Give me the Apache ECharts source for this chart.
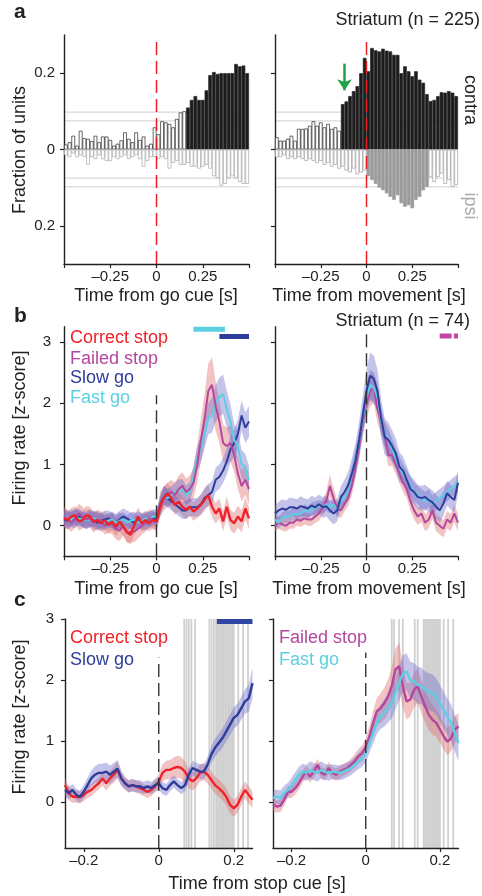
<!DOCTYPE html>
<html>
<head>
<meta charset="utf-8">
<script src="https://cdn.jsdelivr.net/npm/echarts@6/dist/echarts.min.js"></script>
<style>
  html, body { margin: 0; padding: 0; background: #fff; }
  #main { width: 482px; height: 896px; }
</style>
</head>
<body>
<div id="main"></div>
<script>
// ---- panel a: fraction of units, 20 ms bins from -0.5 to 0.5 s ----
var binCenters = [];
for (var i = 0; i < 50; i++) binCenters.push(+(-0.49 + 0.02 * i).toFixed(2));

var aGoContra = [0.013, 0.019, 0.036, 0.01, 0.049, 0.03, 0.028, 0.022, 0.036, 0.019, 0.034, 0.034, 0.025,
  0.01, 0.015, 0.024, 0.045, 0.028, 0.019, 0.045, 0.025, 0.034, 0.01, 0.015, 0.058,
  0.04, 0.074, 0.071, 0.067, 0.058, 0.08, 0.097, 0.1, 0.11, 0.13, 0.14, 0.13, 0.13, 0.155, 0.195,
  0.203, 0.198, 0.2, 0.2, 0.2, 0.2, 0.224, 0.218, 0.22, 0.2];
var aGoIpsi = [0.015, 0.02, 0.01, 0.02, 0.015, 0.02, 0.04, 0.02, 0.025, 0.015, 0.025, 0.03, 0.03,
  0.02, 0.025, 0.02, 0.015, 0.025, 0.02, 0.015, 0.025, 0.045, 0.03, 0.02, 0.02,
  0.025, 0.02, 0.025, 0.05, 0.035, 0.03, 0.04, 0.04, 0.035, 0.045, 0.045, 0.05, 0.045, 0.04, 0.05,
  0.07, 0.075, 0.095, 0.09, 0.075, 0.07, 0.075, 0.085, 0.09, 0.09];
var aMoveContra = [0.032, 0.023, 0.023, 0.028, 0.036, 0.023, 0.054, 0.054, 0.055, 0.062, 0.074, 0.062, 0.071,
  0.058, 0.067, 0.054, 0.058, 0.049, 0.119, 0.126, 0.14, 0.153, 0.166, 0.2, 0.24,
  0.205, 0.266, 0.26, 0.257, 0.264, 0.259, 0.257, 0.248, 0.248, 0.2, 0.218, 0.205, 0.192, 0.205, 0.183,
  0.175, 0.145, 0.127, 0.13, 0.14, 0.15, 0.149, 0.153, 0.149, 0.14];
var aMoveIpsi = [0.02, 0.02, 0.015, 0.025, 0.02, 0.025, 0.02, 0.025, 0.03, 0.025, 0.03, 0.035, 0.03,
  0.04, 0.035, 0.045, 0.04, 0.05, 0.045, 0.055, 0.06, 0.05, 0.065, 0.06, 0.055,
  0.07, 0.08, 0.09, 0.1, 0.107, 0.115, 0.124, 0.132, 0.12, 0.141, 0.15, 0.146, 0.154, 0.132, 0.124,
  0.107, 0.098, 0.072, 0.085, 0.072, 0.063, 0.09, 0.08, 0.098, 0.093];
// time windows where bins are significant (filled)
var aGoContraSig = [0.16, 0.5];
var aMoveContraSig = [-0.14, 0.5];
var aMoveIpsiSig = [0, 0.34];
var aThresholds = [0.075, 0.098];
var aArrow = [-0.12, 0.225, 0.155];

// ---- panel b: z-scored firing rate, 20 ms steps from -0.5 to 0.5 s ----
var timeB = [];
for (var j = 0; j < 51; j++) timeB.push(+(-0.5 + 0.02 * j).toFixed(2));

var bGoRed = [0.12, 0.09, 0.15, 0.17, 0.07, 0.09, 0.17, 0.15, 0.07, 0.09, 0.04, 0.09, 0.01, 0.07, -0.02, 0.07,
  -0.02, -0.1, -0.15, 0.01, 0.15, 0.04, 0.09, 0.04, 0.09, 0.07, 0.31, 0.47, 0.53, 0.45, 0.34, 0.39, 0.31,
  0.26, 0.31, 0.23, 0.28, 0.34, 0.42, 0.5, 0.31, 0.2, 0.28, 0.07, 0.31, 0.09, 0.04, 0.15, 0.07, 0.28, 0.12];
var bGoMagenta = [0.15, 0.1, 0.05, 0.12, 0.2, 0.15, 0.1, 0.12, 0.05, 0.1, 0.08, 0.0, 0.05, 0.02, -0.05, -0.08,
  0.0, -0.12, -0.1, -0.1, -0.05, 0.0, 0.05, 0.12, 0.1, 0.05,
  0.35, 0.45, 0.5, 0.55, 0.5, 0.6, 0.65, 0.55, 0.6, 0.7, 1.0, 1.4, 1.75, 2.2, 2.3, 1.95, 1.7, 1.35, 1.3,
  1.35, 1.15, 0.85, 0.65, 0.75, 0.6];
var bGoBlue = [0.1, 0.08, 0.12, 0.1, 0.15, 0.1, 0.08, 0.12, 0.1, 0.05, 0.08, 0.1, 0.12, 0.08, 0.05, 0.1, 0.15,
  0.12, 0.08, 0.05, 0.1, 0.08, 0.05, 0.1, 0.12, 0.1,
  0.35, 0.5, 0.45, 0.4, 0.35, 0.3, 0.25, 0.25, 0.3, 0.3, 0.3, 0.35, 0.45, 0.5, 0.55, 0.75, 0.8, 0.9, 1.05,
  1.25, 1.35, 1.5, 1.8, 1.6, 1.7];
var bGoCyan = [0.15, 0.12, 0.1, 0.15, 0.12, 0.1, 0.08, 0.1, 0.12, 0.1, 0.08, 0.05, 0.08, 0.1, 0.05, 0.08, 0.1,
  0.05, 0.08, 0.1, 0.05, 0.08, 0.12, 0.1, 0.15, 0.15,
  0.3, 0.5, 0.45, 0.5, 0.55, 0.6, 0.6, 0.5, 0.55, 0.8, 1.1, 1.25, 1.5, 1.75, 1.8, 2.0, 2.1, 2.15, 1.9,
  1.7, 1.4, 1.3, 1.0, 0.95, 0.75];
var semBGoRed = [0.15, 0.15, 0.14, 0.15, 0.15, 0.14, 0.15, 0.16, 0.15, 0.14, 0.14, 0.15, 0.14, 0.15, 0.15, 0.16,
  0.15, 0.16, 0.16, 0.15, 0.15, 0.14, 0.14, 0.13, 0.13, 0.13, 0.15, 0.16, 0.17, 0.17, 0.16, 0.16, 0.15, 0.15,
  0.15, 0.15, 0.16, 0.17, 0.18, 0.18, 0.17, 0.17, 0.16, 0.16, 0.17, 0.17, 0.17, 0.18, 0.18, 0.18, 0.18];
var semBGoMagenta = [0.16, 0.16, 0.15, 0.15, 0.16, 0.16, 0.15, 0.15, 0.16, 0.16, 0.15, 0.15, 0.16, 0.16, 0.17,
  0.17, 0.16, 0.16, 0.17, 0.17, 0.16, 0.15, 0.15, 0.15, 0.15, 0.15,
  0.2, 0.2, 0.2, 0.2, 0.2, 0.22, 0.22, 0.22, 0.22, 0.25, 0.3, 0.35, 0.4, 0.45, 0.45, 0.4, 0.35, 0.3, 0.3,
  0.3, 0.28, 0.25, 0.25, 0.25, 0.25];
var semBGoBlue = [0.13, 0.13, 0.14, 0.14, 0.13, 0.13, 0.14, 0.14, 0.13, 0.13, 0.14, 0.14, 0.13, 0.13, 0.14,
  0.14, 0.13, 0.13, 0.14, 0.14, 0.13, 0.13, 0.13, 0.13, 0.12, 0.12,
  0.15, 0.15, 0.15, 0.15, 0.14, 0.14, 0.14, 0.14, 0.14, 0.15, 0.15, 0.16, 0.17, 0.18, 0.18, 0.2, 0.2, 0.2,
  0.22, 0.22, 0.22, 0.24, 0.25, 0.25, 0.25];
var semBGoCyan = [0.12, 0.12, 0.12, 0.13, 0.13, 0.12, 0.12, 0.12, 0.13, 0.13, 0.12, 0.12, 0.12, 0.13, 0.13,
  0.12, 0.12, 0.12, 0.13, 0.13, 0.12, 0.12, 0.12, 0.12, 0.12, 0.12,
  0.15, 0.15, 0.15, 0.15, 0.15, 0.16, 0.16, 0.16, 0.16, 0.18, 0.2, 0.22, 0.24, 0.26, 0.28, 0.3, 0.32, 0.32,
  0.3, 0.28, 0.26, 0.25, 0.24, 0.22, 0.22];

var bMoveBlue = [0.2, 0.25, 0.28, 0.26, 0.3, 0.3, 0.28, 0.32, 0.3, 0.28, 0.33, 0.3, 0.35, 0.3, 0.32, 0.25, 0.2,
  0.25, 0.47, 0.55, 0.66, 0.85, 1.07, 1.4, 1.8, 2.2,
  2.45, 2.4, 2.2, 1.75, 1.45, 1.4, 1.3, 1.18, 0.96, 0.9, 0.75, 0.6, 0.55, 0.47, 0.45, 0.47, 0.42, 0.38, 0.31,
  0.25, 0.36, 0.53, 0.47, 0.42, 0.7];
var bMoveMagenta = [0.0, 0.05, 0.02, 0.0, 0.05, 0.05, 0.1, 0.08, 0.12, 0.1, 0.1, 0.15, 0.2, 0.3, 0.4, 0.65,
  0.45, 0.28, 0.25, 0.35, 0.45, 0.65, 0.95, 1.3, 1.7, 2.0,
  2.2, 2.25, 1.9, 1.7, 1.45, 1.15, 1.15, 1.0, 0.85, 0.7, 0.6, 0.4, 0.25, 0.15, 0.2, 0.05, 0.1, 0.25, 0.05,
  0.0, -0.05, 0.1, 0.05, 0.2, 0.05];
var bMoveCyan = [0.1, 0.05, 0.12, 0.15, 0.15, 0.2, 0.18, 0.2, 0.25, 0.22, 0.28, 0.3, 0.32, 0.3, 0.35, 0.3, 0.35,
  0.25, 0.4, 0.45, 0.6, 0.85, 1.1, 1.4, 1.75, 2.1,
  2.3, 2.25, 2.1, 1.7, 1.5, 1.4, 1.25, 1.1, 0.95, 0.85, 0.75, 0.65, 0.55, 0.5, 0.45, 0.4, 0.45, 0.35, 0.4,
  0.45, 0.5, 0.55, 0.6, 0.65, 0.7];
var semBMoveBlue = [0.13, 0.14, 0.15, 0.15, 0.16, 0.15, 0.15, 0.16, 0.15, 0.15, 0.16, 0.16, 0.16, 0.17, 0.17,
  0.17, 0.18, 0.18, 0.18, 0.2, 0.22, 0.25, 0.28, 0.3, 0.33, 0.35,
  0.38, 0.38, 0.35, 0.32, 0.3, 0.28, 0.26, 0.25, 0.24, 0.23, 0.22, 0.21, 0.2, 0.2, 0.2, 0.2, 0.2, 0.2, 0.2,
  0.2, 0.2, 0.2, 0.2, 0.2, 0.2];
var semBMoveMagenta = [0.1, 0.1, 0.1, 0.1, 0.1, 0.1, 0.1, 0.1, 0.1, 0.1, 0.1, 0.1, 0.12, 0.13, 0.15, 0.18, 0.16,
  0.14, 0.12, 0.12, 0.13, 0.15, 0.17, 0.2, 0.22, 0.25,
  0.25, 0.25, 0.22, 0.2, 0.2, 0.18, 0.17, 0.16, 0.16, 0.15, 0.15, 0.15, 0.15, 0.14, 0.14, 0.14, 0.14, 0.14,
  0.14, 0.14, 0.14, 0.14, 0.14, 0.14, 0.14];
var semBMoveCyan = [0.1, 0.1, 0.1, 0.1, 0.1, 0.1, 0.1, 0.1, 0.1, 0.1, 0.1, 0.1, 0.1, 0.1, 0.1, 0.1, 0.1, 0.1,
  0.1, 0.1, 0.12, 0.14, 0.16, 0.18, 0.2, 0.22,
  0.25, 0.25, 0.22, 0.2, 0.2, 0.18, 0.18, 0.17, 0.17, 0.16, 0.16, 0.16, 0.15, 0.15, 0.15, 0.15, 0.15, 0.15,
  0.15, 0.15, 0.15, 0.15, 0.15, 0.15, 0.15];
var bGoSigFast = [0.2, 0.37];
var bGoSigSlow = [0.34, 0.5];
var bMoveSigFailed = [[0.4, 0.465], [0.478, 0.5]];

// ---- panel c: firing rate aligned to stop cue, 10 ms steps from -0.25 to 0.25 s ----
var timeC = [];
for (var k = 0; k < 51; k++) timeC.push(+(-0.25 + 0.01 * k).toFixed(2));

var cRed = [0.28, 0.15, 0.09, 0.09, 0.08, 0.12, 0.17, 0.2, 0.26, 0.31, 0.39, 0.31, 0.39, 0.45, 0.53, 0.39, 0.31,
  0.26, 0.28, 0.26, 0.23, 0.2, 0.17, 0.2, 0.26, 0.34, 0.48, 0.53, 0.53, 0.56, 0.58, 0.56, 0.5, 0.39, 0.34,
  0.39, 0.48, 0.5, 0.45, 0.37, 0.28, 0.23, 0.17, 0.09, -0.04, -0.1, -0.04, 0.09, 0.2, 0.12, 0.04];
var cBlue = [0.2, 0.15, 0.2, 0.12, 0.09, 0.17, 0.28, 0.39, 0.45, 0.48, 0.48, 0.5, 0.45, 0.5, 0.55, 0.39, 0.31,
  0.26, 0.28, 0.26, 0.26, 0.23, 0.26, 0.23, 0.28, 0.31, 0.23, 0.2, 0.28, 0.34, 0.28, 0.23, 0.28, 0.45, 0.56,
  0.53, 0.5, 0.5, 0.61, 0.78, 0.89, 0.97, 1.05, 1.16, 1.27, 1.38, 1.43, 1.54, 1.65, 1.7, 1.95];
var cMagenta = [-0.04, -0.07, -0.06, 0.04, 0.17, 0.17, 0.23, 0.31, 0.42, 0.5, 0.42, 0.5, 0.61, 0.48, 0.45, 0.56,
  0.48, 0.45, 0.5, 0.53, 0.56, 0.61, 0.67, 0.75, 0.8, 0.91, 1.08, 1.3, 1.49, 1.54, 1.62, 1.73, 1.9, 2.17,
  2.23, 1.9, 1.65, 1.68, 1.84, 1.9, 1.73, 1.57, 1.43, 1.35, 1.3, 1.19, 1.08, 0.99, 1.05, 1.19, 1.24];
var cCyan = [0.07, 0.09, 0.07, 0.15, 0.2, 0.28, 0.37, 0.45, 0.5, 0.48, 0.53, 0.5, 0.48, 0.53, 0.5, 0.48, 0.5,
  0.49, 0.48, 0.5, 0.53, 0.56, 0.61, 0.67, 0.72, 0.8, 0.97, 1.13, 1.3, 1.4, 1.46, 1.54, 1.62, 1.79, 1.95,
  2.11, 2.14, 2.0, 1.98, 1.92, 1.9, 1.84, 1.81, 1.79, 1.73, 1.62, 1.51, 1.4, 1.3, 1.13, 0.97];
var semCRed = [0.12, 0.12, 0.1, 0.1, 0.1, 0.1, 0.1, 0.1, 0.1, 0.1, 0.12, 0.12, 0.12, 0.13, 0.14, 0.12, 0.1, 0.1,
  0.1, 0.1, 0.1, 0.1, 0.1, 0.1, 0.1, 0.12, 0.14, 0.15, 0.16, 0.17, 0.18, 0.18, 0.17, 0.16, 0.15, 0.15, 0.14,
  0.14, 0.14, 0.14, 0.14, 0.14, 0.14, 0.14, 0.14, 0.14, 0.14, 0.14, 0.14, 0.14, 0.14];
var semCBlue = [0.1, 0.1, 0.1, 0.1, 0.1, 0.11, 0.12, 0.13, 0.14, 0.15, 0.15, 0.15, 0.15, 0.14, 0.14, 0.12, 0.1,
  0.1, 0.1, 0.1, 0.1, 0.1, 0.1, 0.1, 0.1, 0.1, 0.1, 0.1, 0.1, 0.1, 0.1, 0.1, 0.1, 0.11, 0.12, 0.12, 0.12,
  0.12, 0.13, 0.14, 0.15, 0.15, 0.16, 0.16, 0.17, 0.18, 0.18, 0.19, 0.2, 0.22, 0.25];
var semCMagenta = [0.1, 0.1, 0.1, 0.1, 0.1, 0.1, 0.1, 0.1, 0.1, 0.1, 0.1, 0.1, 0.1, 0.1, 0.1, 0.1, 0.1, 0.1,
  0.1, 0.1, 0.1, 0.1, 0.11, 0.12, 0.13, 0.15, 0.17, 0.2, 0.22, 0.24, 0.26, 0.28, 0.3, 0.35, 0.38, 0.35, 0.3,
  0.28, 0.28, 0.28, 0.27, 0.26, 0.25, 0.24, 0.23, 0.22, 0.22, 0.22, 0.22, 0.22, 0.22];
var semCCyan = [0.12, 0.12, 0.12, 0.12, 0.12, 0.12, 0.12, 0.13, 0.13, 0.13, 0.14, 0.14, 0.14, 0.14, 0.13, 0.13,
  0.12, 0.12, 0.12, 0.12, 0.12, 0.12, 0.12, 0.13, 0.14, 0.15, 0.16, 0.17, 0.18, 0.2, 0.22, 0.24, 0.25, 0.27,
  0.28, 0.3, 0.3, 0.3, 0.3, 0.3, 0.3, 0.3, 0.3, 0.3, 0.3, 0.3, 0.3, 0.3, 0.3, 0.3, 0.3];
// times where the two conditions differ (grey lines)
var cSigLeft = [0.068, 0.074, 0.08, 0.087, 0.097, 0.135, 0.141, 0.147, 0.153, 0.157, 0.161, 0.165, 0.169,
  0.173, 0.177, 0.181, 0.185, 0.189, 0.193, 0.197, 0.2, 0.212, 0.225, 0.238];
var cSigRight = [0.07, 0.076, 0.09, 0.1, 0.132, 0.14, 0.156, 0.16, 0.164, 0.168, 0.172, 0.176, 0.18, 0.184,
  0.188, 0.192, 0.196, 0.2, 0.21, 0.222, 0.236];
var cSigSlow = [0.155, 0.25];

// ---- styling ----
var FONT = "'Liberation Sans', Arial, Helvetica, sans-serif";
var RED = '#ef2229', MAGENTA = '#b4479e', BLUE = '#2e3d9a', CYAN = '#5ccfe0';
var PINK_BAND = 'rgba(222, 112, 112, 0.42)', LAV_BAND = 'rgba(108, 108, 205, 0.40)';

function minus(v) { return v < 0 ? '\u2013' + Math.abs(v) : String(v); }

function xy(t, v) { return t.map(function (x, i) { return [x, v[i]]; }); }

function band(gi, t, mean, sem, fill) {
  return {
    type: 'custom', xAxisIndex: gi, yAxisIndex: gi, silent: true, z: 1,
    data: [[0, 0]],
    renderItem: function (params, api) {
      var pts = [];
      for (var i = 0; i < t.length; i++) pts.push(api.coord([t[i], mean[i] + sem[i]]));
      for (var j = t.length - 1; j >= 0; j--) pts.push(api.coord([t[j], mean[j] - sem[j]]));
      return { type: 'polygon', shape: { points: pts }, style: { fill: fill } };
    }
  };
}

function trace(gi, t, v, color, w) {
  return {
    type: 'line', xAxisIndex: gi, yAxisIndex: gi, data: xy(t, v), symbol: 'none',
    lineStyle: { color: color, width: w }, silent: true, z: 3
  };
}

function segment(gi, x0, x1, y0, y1, color, w, dash) {
  return {
    type: 'line', xAxisIndex: gi, yAxisIndex: gi, data: [[x0, y0], [x1, y1]], symbol: 'none',
    lineStyle: { color: color, width: w, type: dash || 'solid' }, silent: true, z: 5
  };
}

function vlines(gi, xs, y0, y1, color, w) {
  return {
    type: 'custom', xAxisIndex: gi, yAxisIndex: gi, silent: true, z: 0,
    data: xs.map(function (x) { return [x, y0]; }),
    renderItem: function (params, api) {
      var a = api.coord([api.value(0), y0]), b = api.coord([api.value(0), y1]);
      return { type: 'line', shape: { x1: a[0], y1: a[1], x2: b[0], y2: b[1] }, style: { stroke: color, lineWidth: w } };
    }
  };
}

function hlines(gi, ys, x0, x1, color, w) {
  return {
    type: 'custom', xAxisIndex: gi, yAxisIndex: gi, silent: true, z: 0,
    data: ys.map(function (y) { return [x0, y]; }),
    renderItem: function (params, api) {
      var a = api.coord([x0, api.value(1)]), b = api.coord([x1, api.value(1)]);
      return { type: 'line', shape: { x1: a[0], y1: a[1], x2: b[0], y2: b[1] }, style: { stroke: color, lineWidth: w } };
    }
  };
}

function bars(gi, vals, sign, sig, fillSig, fillPlain, border, width) {
  return {
    type: 'bar', xAxisIndex: gi, yAxisIndex: gi, barWidth: width, barGap: '-100%', silent: true, z: 2,
    data: binCenters.map(function (x, i) {
      var on = sig && x > sig[0] && x < sig[1];
      return { value: [x, sign * vals[i]], itemStyle: { color: on ? fillSig : fillPlain, borderColor: border, borderWidth: 0.7 } };
    })
  };
}

var grids = [
  { left: 64, top: 35, width: 185, height: 229 },
  { left: 275, top: 35, width: 183, height: 229 },
  { left: 64, top: 326.7, width: 185, height: 229.6 },
  { left: 275, top: 326.7, width: 183, height: 229.6 },
  { left: 65, top: 619, width: 187.5, height: 229 },
  { left: 273, top: 619, width: 185.5, height: 229 }
];
grids.forEach(function (g) { g.outerBoundsMode = 'none'; g.containLabel = false; });

function xAxis(gi, min, max, ticks, labels) {
  return {
    type: 'value', gridIndex: gi, min: min, max: max,
    axisLine: { show: true, onZero: false, lineStyle: { color: '#222', width: 1.4 } },
    axisTick: { show: true, length: 4, customValues: ticks, lineStyle: { color: '#222', width: 1.2 } },
    axisLabel: { show: true, customValues: labels, formatter: minus, color: '#222', fontSize: 15, fontFamily: FONT, margin: 5 },
    splitLine: { show: false }
  };
}

function yAxis(gi, min, max, ticks, showLabels, margin, fmt) {
  return {
    type: 'value', gridIndex: gi, min: min, max: max,
    axisLine: { show: true, onZero: false, lineStyle: { color: '#222', width: 1.4 } },
    axisTick: { show: true, length: 4, customValues: ticks, lineStyle: { color: '#222', width: 1.2 } },
    axisLabel: { show: showLabels, customValues: ticks, formatter: fmt, color: '#222', fontSize: 15, fontFamily: FONT, margin: margin },
    splitLine: { show: false }
  };
}

var absFmt = function (v) { return String(Math.abs(v)); };
var plainFmt = function (v) { return String(v); };
var halfTicks = [-0.5, -0.25, 0, 0.25, 0.5], halfLabels = [-0.25, 0, 0.25];

var series = [];
// a
series.push(hlines(0, aThresholds.concat(aThresholds.map(function (v) { return -v; })), -0.5, 0.5, '#cfcfcf', 1));
series.push(bars(0, aGoContra, 1, aGoContraSig, '#1c1c1c', '#ffffff', '#2a2a2a', 3.7));
series.push(bars(0, aGoIpsi, -1, null, '#9a9a9a', '#ffffff', '#a8a8a8', 3.7));
series.push(segment(0, 0, 0, -0.3, 0.285, '#ee1c25', 1.5, [13, 6]));
series.push(hlines(1, aThresholds.concat(aThresholds.map(function (v) { return -v; })), -0.5, 0.5, '#cfcfcf', 1));
var moveContra = bars(1, aMoveContra, 1, aMoveContraSig, '#1c1c1c', '#ffffff', '#2a2a2a', 3.66);
moveContra.markLine = {
  silent: true, symbol: ['none', 'arrow'], symbolSize: 11, label: { show: false },
  lineStyle: { color: '#1fa346', width: 2.5, type: 'solid' },
  data: [[{ coord: [aArrow[0], aArrow[1]] }, { coord: [aArrow[0], aArrow[2]] }]]
};
series.push(moveContra);
series.push(bars(1, aMoveIpsi, -1, aMoveIpsiSig, '#9a9a9a', '#ffffff', '#a0a0a0', 3.66));
series.push(segment(1, 0, 0, -0.3, 0.285, '#ee1c25', 1.5, [13, 6]));
// b
series.push(band(2, timeB, bGoRed, semBGoRed, PINK_BAND));
series.push(band(2, timeB, bGoMagenta, semBGoMagenta, PINK_BAND));
series.push(band(2, timeB, bGoBlue, semBGoBlue, LAV_BAND));
series.push(band(2, timeB, bGoCyan, semBGoCyan, LAV_BAND));
series.push(trace(2, timeB, bGoBlue, BLUE, 2));
series.push(trace(2, timeB, bGoCyan, CYAN, 2));
series.push(trace(2, timeB, bGoMagenta, MAGENTA, 2));
series.push(trace(2, timeB, bGoRed, RED, 2.4));
series.push(segment(2, 0, 0, -0.5, 2.13, '#333', 1.4, [13, 6]));
series.push(segment(2, bGoSigFast[0], bGoSigFast[1], 3.21, 3.21, CYAN, 5));
series.push(segment(2, bGoSigSlow[0], bGoSigSlow[1], 3.09, 3.09, BLUE, 5));

series.push(band(3, timeB, bMoveMagenta, semBMoveMagenta, PINK_BAND));
series.push(band(3, timeB, bMoveBlue, semBMoveBlue, LAV_BAND));
series.push(band(3, timeB, bMoveCyan, semBMoveCyan, LAV_BAND));
series.push(trace(3, timeB, bMoveMagenta, MAGENTA, 2));
series.push(trace(3, timeB, bMoveCyan, CYAN, 2));
series.push(trace(3, timeB, bMoveBlue, BLUE, 2));
series.push(segment(3, 0, 0, -0.5, 3.2, '#333', 1.4, [13, 6]));
bMoveSigFailed.forEach(function (s) { series.push(segment(3, s[0], s[1], 3.1, 3.1, '#c0499f', 5)); });
// c
series.push(vlines(4, cSigLeft, -0.75, 3, '#d0d0d0', 1.8));
series.push(band(4, timeC, cRed, semCRed, PINK_BAND));
series.push(band(4, timeC, cBlue, semCBlue, LAV_BAND));
series.push(trace(4, timeC, cRed, RED, 2.4));
series.push(trace(4, timeC, cBlue, BLUE, 2.4));
series.push(segment(4, 0, 0, -0.75, 2.37, '#333', 1.4, [13, 6]));
series.push(segment(4, cSigSlow[0], cSigSlow[1], 2.96, 2.96, '#2f46a6', 5));

series.push(vlines(5, cSigRight, -0.75, 3, '#d0d0d0', 1.8));
series.push(band(5, timeC, cMagenta, semCMagenta, PINK_BAND));
series.push(band(5, timeC, cCyan, semCCyan, LAV_BAND));
series.push(trace(5, timeC, cMagenta, MAGENTA, 2.4));
series.push(trace(5, timeC, cCyan, CYAN, 2.4));
series.push(segment(5, 0, 0, -0.75, 2.45, '#333', 1.4, [13, 6]));

function txt(x, y, text, opts) {
  opts = opts || {};
  return {
    type: 'text', x: x, y: y, rotation: opts.rotation || 0, silent: true, z: 100,
    style: {
      text: text, x: 0, y: 0, fill: opts.color || '#222',
      font: (opts.weight || 'normal') + ' ' + (opts.size || 18) + 'px ' + FONT,
      align: opts.align || 'center', verticalAlign: 'middle',
      textAlign: opts.align || 'center', textVerticalAlign: 'middle'
    }
  };
}

var graphics = [
  txt(14, 12, 'a', { weight: 'bold', size: 21, align: 'left' }),
  txt(14, 316, 'b', { weight: 'bold', size: 21, align: 'left' }),
  txt(14, 600, 'c', { weight: 'bold', size: 21, align: 'left' }),
  txt(480, 20, 'Striatum (n = 225)', { align: 'right' }),
  txt(470, 321, 'Striatum (n = 74)', { align: 'right' }),
  txt(470, 100, 'contra', { rotation: -Math.PI / 2 }),
  txt(470, 206, 'ipsi', { rotation: -Math.PI / 2, color: '#aaaaaa' }),
  txt(20, 150, 'Fraction of units', { rotation: Math.PI / 2 }),
  txt(20, 428, 'Firing rate [z-score]', { rotation: Math.PI / 2 }),
  txt(20, 717, 'Firing rate [z-score]', { rotation: Math.PI / 2 }),
  txt(156, 296, 'Time from go cue [s]'),
  txt(369, 296, 'Time from movement [s]'),
  txt(156, 589, 'Time from go cue [s]'),
  txt(369, 589, 'Time from movement [s]'),
  txt(257, 884, 'Time from stop cue [s]'),
  txt(70, 338, 'Correct stop', { align: 'left', color: RED }),
  txt(70, 359, 'Failed stop', { align: 'left', color: MAGENTA }),
  txt(70, 378, 'Slow go', { align: 'left', color: BLUE }),
  txt(70, 398, 'Fast go', { align: 'left', color: CYAN }),
  txt(70, 638, 'Correct stop', { align: 'left', color: RED }),
  txt(70, 660, 'Slow go', { align: 'left', color: BLUE }),
  txt(279, 638, 'Failed stop', { align: 'left', color: MAGENTA }),
  txt(279, 660, 'Fast go', { align: 'left', color: CYAN })
];

var chart = echarts.init(document.getElementById('main'), null, { renderer: 'canvas' });
chart.setOption({
  animation: false,
  backgroundColor: '#fff',
  textStyle: { fontFamily: FONT },
  grid: grids,
  xAxis: [
    xAxis(0, -0.5, 0.5, halfTicks, halfLabels),
    xAxis(1, -0.5, 0.5, halfTicks, halfLabels),
    xAxis(2, -0.5, 0.5, halfTicks, halfLabels),
    xAxis(3, -0.5, 0.5, halfTicks, halfLabels),
    xAxis(4, -0.25, 0.25, [-0.2, 0, 0.2], [-0.2, 0, 0.2]),
    xAxis(5, -0.25, 0.25, [-0.2, 0, 0.2], [-0.2, 0, 0.2])
  ],
  yAxis: [
    yAxis(0, -0.3, 0.3, [-0.2, 0, 0.2], true, 9, absFmt),
    yAxis(1, -0.3, 0.3, [-0.2, 0, 0.2], false, 9, absFmt),
    yAxis(2, -0.5, 3.25, [0, 1, 2, 3], true, 13, plainFmt),
    yAxis(3, -0.5, 3.25, [0, 1, 2, 3], false, 13, plainFmt),
    yAxis(4, -0.75, 3, [0, 1, 2, 3], true, 11, plainFmt),
    yAxis(5, -0.75, 3, [0, 1, 2, 3], false, 11, plainFmt)
  ],
  series: series,
  graphic: graphics
});
</script>
</body>
</html>
